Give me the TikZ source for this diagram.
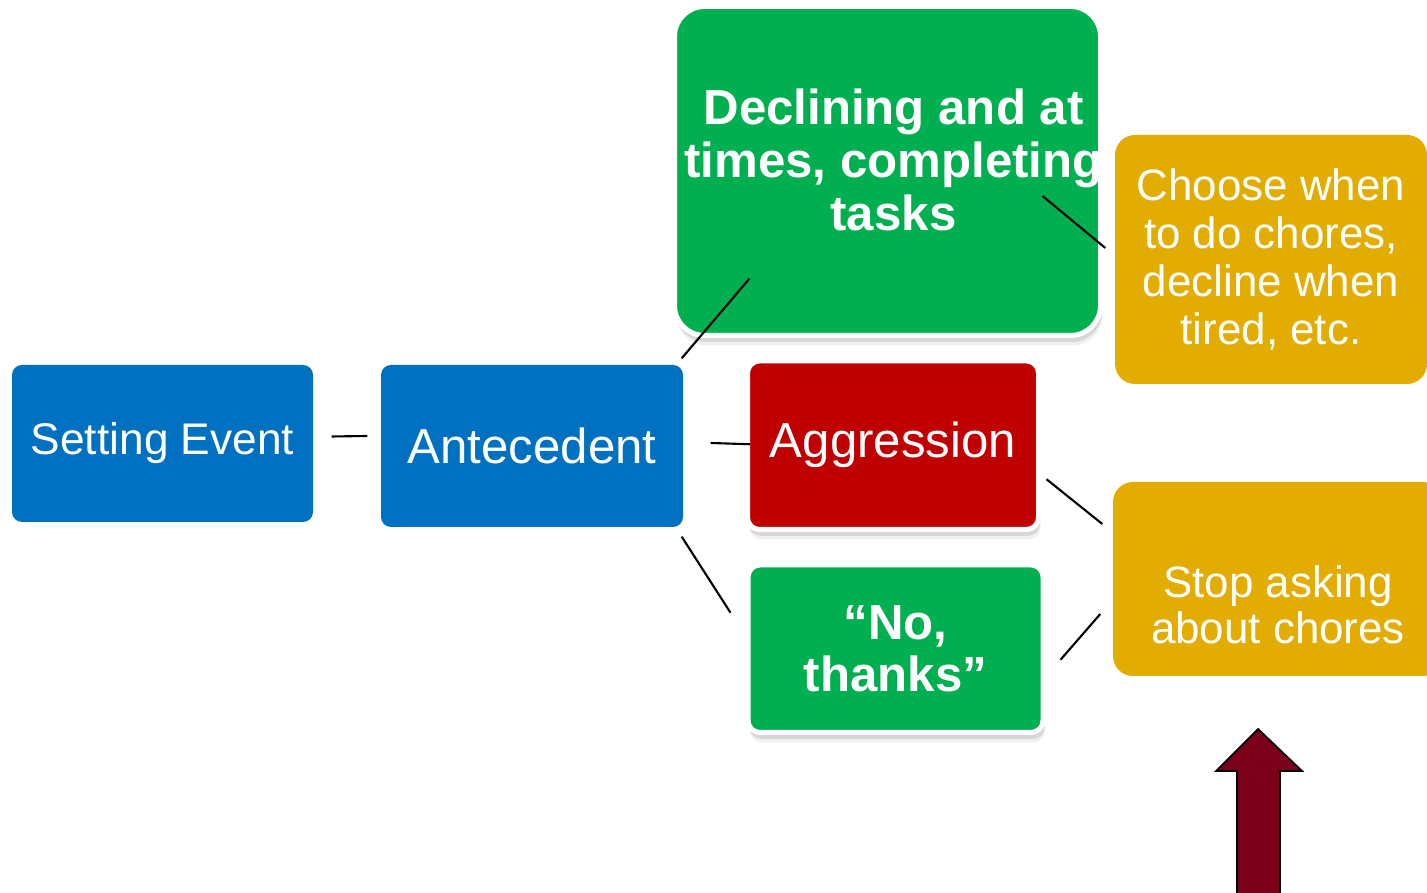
\documentclass[tikz,border=0pt]{standalone}
\usepackage{fontspec}
\setmainfont{Liberation Sans}
\usepackage{xcolor}
\usepackage{tikz}
\usetikzlibrary{positioning, calc, shadows}
\definecolor{setblue}{HTML}{0070C0}
\definecolor{taskgreen}{HTML}{00B050}
\definecolor{aggrred}{HTML}{C00000}
\definecolor{conseqgold}{HTML}{E2AC00}
\definecolor{arrowred}{HTML}{7A0019}

\tikzset{
  box/.style={text=white, align=center, inner sep=0pt},
  framed/.style={box, draw=white, line width=0.05cm,
    drop shadow={shadow xshift=0.02cm, shadow yshift=-0.1cm, opacity=0.12},
    drop shadow={shadow xshift=0.015cm, shadow yshift=-0.065cm, opacity=0.22}},
  link/.style={draw=black, line width=0.6pt}
}

\begin{document}
\begin{tikzpicture}
  \clip (0,0) rectangle (14.27,8.93);

  % left chain
  \node[box, fill=setblue, rounded corners=0.1cm, minimum width=3.01cm, minimum height=1.57cm,
        font=\fontsize{12.6pt}{14pt}\selectfont] (set) at (1.625,4.495) {Setting Event};
  \node[box, fill=setblue, rounded corners=0.1cm, minimum width=3.02cm, minimum height=1.62cm,
        font=\fontsize{14pt}{15pt}\selectfont] (ante) at (5.32,4.47) {Antecedent};

  % behaviours
  \node[framed, fill=taskgreen, rounded corners=0.3cm, minimum width=4.26cm, minimum height=3.29cm]
        (decl) at (8.875,7.22) {};
  \node[box, font=\bfseries\fontsize{14pt}{15pt}\selectfont] (decltxt) at ($(decl.center)+(0.06,0.11)$)
        {Declining and at\\times, completing\\tasks};
  \node[framed, fill=aggrred, rounded corners=0.12cm, minimum width=2.91cm, minimum height=1.685cm,
        font=\fontsize{14pt}{15pt}\selectfont] (aggr) at (8.93,4.4775) {Aggression};
  \node[framed, fill=taskgreen, rounded corners=0.12cm, minimum width=2.95cm, minimum height=1.675cm,
        font=\bfseries\fontsize{14pt}{14.8pt}\selectfont] (nothx) at (8.955,2.4425) {``No,\\thanks''};

  % consequences
  \node[box, fill=conseqgold, rounded corners=0.2cm, minimum width=3.12cm, minimum height=2.49cm,
        font=\fontsize{12.5pt}{13.7pt}\selectfont] (choose) at (12.71,6.335)
        {Choose when\\to do chores,\\decline when\\tired, etc.};
  \node[box, fill=conseqgold, rounded corners=0.2cm, minimum width=3.30cm, minimum height=1.94cm]
        (stop) at (12.78,3.14) {};
  \node[box, font=\fontsize{12.5pt}{13.1pt}\selectfont] (stoptxt) at ($(stop.center)+(0,-0.26)$)
        {Stop asking\\about chores};

  % links
  \draw[link] ($(set.east)+(0.18,0.07)$) -- ($(ante.west)+(-0.13,0.10)$);
  \draw[link] ($(ante.east)+(0.27,0.03)$) -- ($(aggr.west)+(0.05,0.01)$);
  \draw[link] ($(ante.north east)+(-0.02,0.06)$) -- ($(decl.south west)+(0.775,0.595)$);
  \draw[link] ($(ante.south east)+(-0.02,-0.09)$) -- ($(nothx.west)+(-0.15,0.36)$);
  \draw[link] ($(decl.east)+(-0.605,-0.25)$) -- ($(choose.west)+(-0.09,0.115)$);
  \draw[link] ($(aggr.east)+(0.055,-0.34)$) -- ($(stop.west)+(-0.10,0.55)$);
  \draw[link] ($(nothx.east)+(0.15,-0.11)$) -- ($(stop.west)+(-0.12,-0.35)$);

  % up arrow
  \draw[fill=arrowred, draw=black, line width=0.5pt]
    (12.58,1.64) -- (13.02,1.22) -- (12.80,1.22) -- (12.80,-0.1)
    -- (12.37,-0.1) -- (12.37,1.22) -- (12.16,1.22) -- cycle;
\end{tikzpicture}
\end{document}
